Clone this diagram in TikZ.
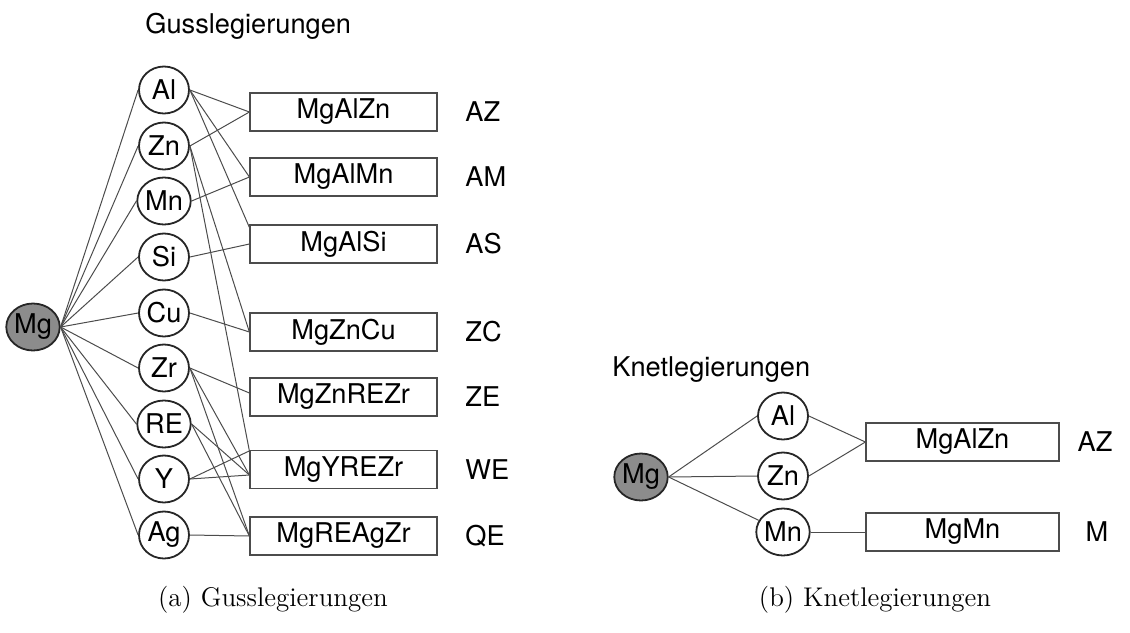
\documentclass[tikz,border=0pt]{standalone}
\usepackage{fontspec}
\setsansfont{TeX Gyre Heros}
\usetikzlibrary{shapes.geometric,calc}
\begin{document}
\begin{tikzpicture}[x=0.5pt,y=-0.5pt,
  elem/.style={ellipse,draw=black!85,line width=0.9pt,minimum width=25pt,
    minimum height=23.5pt,inner sep=0pt,font=\sffamily\fontsize{13.6}{15}\selectfont},
  mgnode/.style={elem,fill=black!45},
  alloy/.style={rectangle,draw=black!70,line width=0.6pt,minimum width=93.5pt,
    minimum height=19pt,inner sep=0pt,font=\sffamily\fontsize{13.6}{16}\selectfont},
  abbr/.style={inner sep=0pt,font=\sffamily\fontsize{13.6}{16}\selectfont},
  headline/.style={anchor=base west,inner sep=0pt,font=\sffamily\fontsize{13.6}{16}\selectfont},
  subcap/.style={inner sep=0pt,font=\rmfamily\fontsize{13.5}{16}\selectfont},
  wire/.style={draw=black!70,line width=0.5pt}]

\useasboundingbox (0,0) rectangle (1130,632);

% ---------------- (a) cast alloys ----------------
\node[headline] (tA) at (145,33) {Gusslegierungen};

\node[mgnode] (mg) at (33,327) {Mg};
\node[elem] (al) at (164,90)  {Al};
\node[elem] (zn) at (164,146) {Zn};
\node[elem] (mn) at (164,201) {Mn};
\node[elem] (si) at (164,257) {Si};
\node[elem] (cu) at (164,313) {Cu};
\node[elem] (zr) at (164,368) {Zr};
\node[elem] (re) at (164,424) {RE};
\node[elem] (yt) at (164,479) {Y};
\node[elem] (ag) at (164,535) {Ag};

\node[alloy] (bAZ) at (343.5,112)   {MgAlZn};
\node[alloy] (bAM) at (343.5,177)   {MgAlMn};
\node[alloy] (bAS) at (343.5,244)   {MgAlSi};
\node[alloy] (bZC) at (343.5,332)   {MgZnCu};
\node[alloy] (bZE) at (343.5,397)   {MgZnREZr};
\node[alloy] (bWE) at (343.5,469.5) {MgYREZr};
\node[alloy] (bQE) at (343.5,536)   {MgREAgZr};

\node[abbr,anchor=west] (lAZ) at (465,112)   {AZ};
\node[abbr,anchor=west] (lAM) at (465,177)   {AM};
\node[abbr,anchor=west] (lAS) at (465,244)   {AS};
\node[abbr,anchor=west] (lZC) at (465,332)   {ZC};
\node[abbr,anchor=west] (lZE) at (465,397)   {ZE};
\node[abbr,anchor=west] (lWE) at (465,469.5) {WE};
\node[abbr,anchor=west] (lQE) at (465,536)   {QE};

\foreach \e in {al,zn,mn,si,cu,zr,re,yt,ag}
  \draw[wire] (mg.east) -- (\e.west);

\coordinate (asTop) at ($(bAS.north west)+(0,3)$);
\coordinate (weTop) at ($(bWE.north west)+(0,1)$);
\coordinate (weIn)  at ($(bWE.west)+(0,5.5)$);
\coordinate (zeIn)  at ($(bZE.west)+(0,-4)$);

\draw[wire] (al.east) -- (bAZ.west);
\draw[wire] (zn.east) -- (bAZ.west);
\draw[wire] (al.east) -- (bAM.west);
\draw[wire] (mn.east) -- (bAM.west);
\draw[wire] (al.east) -- (asTop);
\draw[wire] (si.east) -- (bAS.west);
\draw[wire] (zn.east) -- (bZC.west);
\draw[wire] (cu.east) -- (bZC.west);
\draw[wire] (zn.east) -- (weTop);
\draw[wire] (zr.east) -- (zeIn);
\draw[wire] (zr.east) -- (weIn);
\draw[wire] (re.east) -- (weIn);
\draw[wire] (yt.east) -- (weIn);
\draw[wire] (yt.east) -- (weTop);
\draw[wire] (zr.east) -- (bQE.west);
\draw[wire] (re.east) -- (bQE.west);
\draw[wire] (ag.east) -- (bQE.west);

% ---------------- (b) wrought alloys ----------------
\node[headline] (tB) at (612,376) {Knetlegierungen};

\node[mgnode] (mgB) at (641,477) {Mg};
\node[elem] (alB) at (783,416) {Al};
\node[elem] (znB) at (783,476) {Zn};
\node[elem] (mnB) at (783,532) {Mn};

\node[alloy,minimum width=96.5pt] (bAZB) at (962.5,442) {MgAlZn};
\node[alloy,minimum width=96.5pt] (bMB)  at (962.5,532) {MgMn};

\node[abbr] (lAZB) at (1095,442) {AZ};
\node[abbr] (lMB)  at (1097,532) {M};

\draw[wire] (mgB.east) -- (alB.west);
\draw[wire] (mgB.east) -- (znB.west);
\draw[wire] (mgB.east) -- (mnB);
\draw[wire] (alB.east) -- (bAZB.west);
\draw[wire] (znB.east) -- (bAZB.west);
\draw[wire] (mnB.east) -- (bMB.west);

% ---------------- captions ----------------
\node[subcap] (capA) at (273,600) {(a) Gusslegierungen};
\node[subcap] (capB) at (875,600) {(b) Knetlegierungen};

\end{tikzpicture}
\end{document}
